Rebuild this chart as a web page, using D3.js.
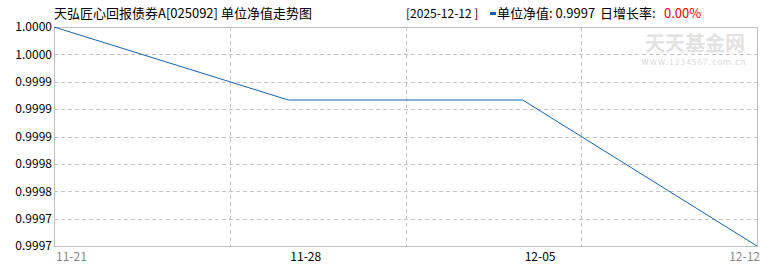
<!DOCTYPE html>
<html>
<head>
<meta charset="utf-8">
<script src="https://cdn.jsdelivr.net/npm/d3@7"></script>
<style>
  body { margin: 0; background: #fff; }
  text { font-family: "Noto Sans CJK SC", "DejaVu Sans", sans-serif; }
</style>
</head>
<body>
<script>
// weekly NAV
const dates = ['2025-11-21', '2025-11-28', '2025-12-05', '2025-12-12']
const navValues = [1.00000, 0.99990, 0.99990, 0.99970]
const yTickLabels = ['0.9997', '0.9997', '0.9998', '0.9998', '0.9999', '0.9999', '0.9999', '1.0000', '1.0000']
const xTickLabels = ['11-21', '11-28', '12-05', '12-12']
const title = '天弘匠心回报债券A[025092] 单位净值走势图'

const m = { width: 770, height: 270, left: 54, right: 757, top: 27, bottom: 246 }
const parse = d3.timeParse('%Y-%m-%d')
const data = dates.map((d, i) => ({ date: parse(d), nav: navValues[i] }))

const svg = d3.select('body').append('svg')
    .attr('width', m.width)
    .attr('height', m.height)

const x = d3.scaleTime()
    .domain(d3.extent(data, d => d.date))
    .range([m.left, m.right])

const yMin = 0.99970, yMax = 1.00000
const y = d3.scaleLinear()
    .domain([yMin, yMax])
    .range([m.bottom, m.top])

const yTicks = d3.range(yTickLabels.length).map(i => yMin + i * (yMax - yMin) / (yTickLabels.length - 1))

// watermark
svg.append('text')
    .attr('x', 695).attr('y', 51)
    .attr('text-anchor', 'middle')
    .attr('font-size', 20)
    .attr('font-weight', 'bold')
    .attr('fill', '#e2e2e2')
    .text('天天基金网')
svg.append('text')
    .attr('x', 694).attr('y', 65)
    .attr('text-anchor', 'middle')
    .attr('font-size', 8)
    .attr('fill', '#d8d8d8')
    .attr('letter-spacing', 1.2)
    .text('WWW.1234567.com.cn')

// horizontal grid
svg.append('g')
    .selectAll('line')
    .data(yTicks.slice(1, -1))
    .enter()
    .append('line')
        .attr('x1', m.left).attr('x2', m.right)
        .attr('y1', d => Math.round(y(d)) + 0.5)
        .attr('y2', d => Math.round(y(d)) + 0.5)
        .attr('stroke', '#c4c4c4')
        .attr('stroke-dasharray', '4,3')

// vertical grid, quarters of the plot
const vGrid = d3.scaleLinear().domain([0, 4]).range([m.left, m.right])
svg.append('g')
    .selectAll('line')
    .data([1, 2, 3])
    .enter()
    .append('line')
        .attr('x1', d => Math.round(vGrid(d)) + 0.5)
        .attr('x2', d => Math.round(vGrid(d)) + 0.5)
        .attr('y1', m.top).attr('y2', m.bottom)
        .attr('stroke', '#c4c4c4')
        .attr('stroke-dasharray', '4,3')

// frame
svg.append('rect')
    .attr('x', m.left + 0.5).attr('y', m.top + 0.5)
    .attr('width', m.right - m.left).attr('height', m.bottom - m.top)
    .attr('fill', 'none')
    .attr('stroke', '#c0c0c0')

// y labels
const yAxis = svg.append('g')
    .attr('transform', `translate(${m.left - 2},0)`)
    .call(d3.axisLeft(y)
        .tickValues(yTicks)
        .tickSize(0)
        .tickPadding(0)
        .tickFormat((d, i) => yTickLabels[i]))
yAxis.select('.domain').remove()
yAxis.selectAll('text')
    .attr('font-size', 12)
    .attr('fill', '#000')

// x labels
const xDates = xTickLabels.map(s => parse('2025-' + s))
svg.append('g')
    .selectAll('text')
    .data(xDates)
    .enter()
    .append('text')
        .attr('x', (d, i) => i === xDates.length - 1 ? x(d) + 3 : x(d) + 2)
        .attr('y', 261)
        .attr('text-anchor', (d, i) => i === xDates.length - 1 ? 'end' : 'start')
        .attr('font-size', 12)
        .attr('fill', (d, i) => (i === 0 || i === xDates.length - 1) ? '#888' : '#000')
        .text((d, i) => xTickLabels[i])

// nav line
const line = d3.line()
    .x(d => x(d.date))
    .y(d => y(d.nav))

svg.append('path')
    .datum(data)
    .attr('fill', 'none')
    .attr('stroke', '#1560b0')
    .attr('stroke-width', 1)
    .attr('d', line)

// title and info
svg.append('text')
    .attr('x', 54).attr('y', 18)
    .attr('font-size', 13)
    .attr('fill', '#000')
    .text(title)

const last = data[data.length - 1]
const info = svg.append('g').attr('font-size', 13)
info.append('text').attr('x', 406).attr('y', 18)
    .attr('font-size', 12)
    .text('[' + d3.timeFormat('%Y-%m-%d')(last.date) + ' ]')
info.append('rect').attr('x', 490).attr('y', 12).attr('width', 6).attr('height', 3)
    .attr('fill', '#1560b0')
info.append('text').attr('x', 497).attr('y', 18)
    .text('单位净值: ' + last.nav.toFixed(4))
info.append('text').attr('x', 600).attr('y', 18)
    .text('日增长率:')
info.append('text').attr('x', 664).attr('y', 18)
    .attr('fill', '#e00')
    .text('0.00%')
</script>
</body>
</html>
